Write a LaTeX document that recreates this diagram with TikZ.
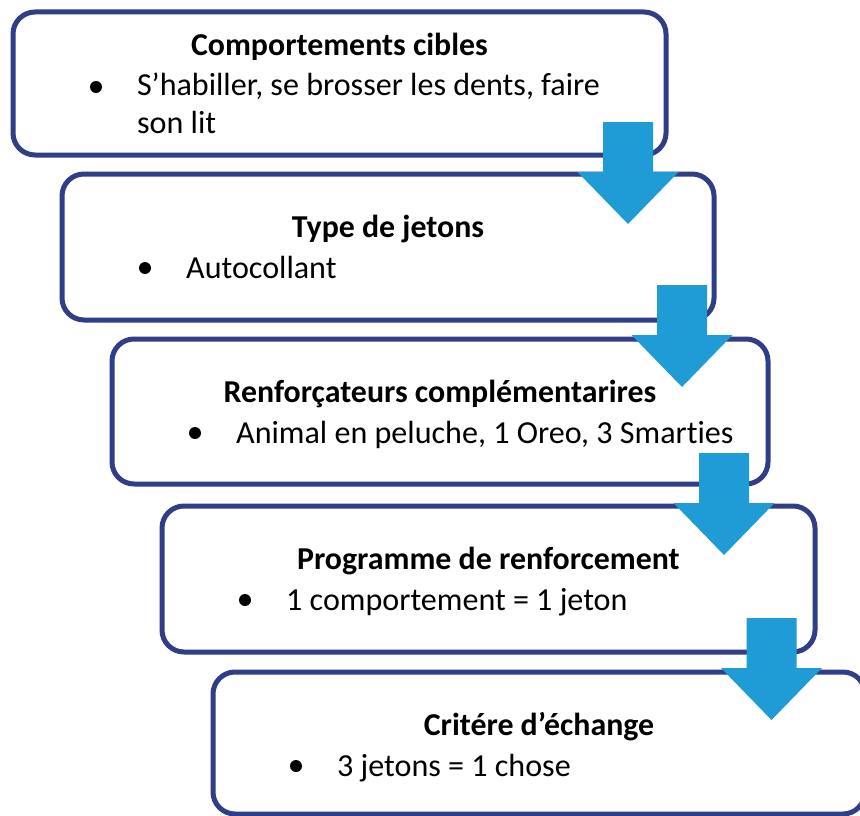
\documentclass[tikz,border=0pt]{standalone}
\usepackage{fontspec}
\setmainfont[Ligatures=NoCommon]{Carlito}
\usetikzlibrary{calc}
\definecolor{boxblue}{HTML}{2F3E86}
\definecolor{arrowblue}{HTML}{1F9BD6}
\tikzset{
  stepbox/.style={rectangle, draw=boxblue, line width=5bp, rounded corners=22bp, fill=white,
    inner sep=0pt, outer sep=0pt, anchor=north west},
  titletext/.style={font=\fontsize{32}{38}\selectfont\bfseries, anchor=base, inner sep=0pt},
  bodytext/.style={font=\fontsize{32.2}{38}\selectfont, anchor=base west, inner sep=0pt},
  bulletdot/.style={circle, fill=black, minimum size=12bp, inner sep=0pt},
}
\newcommand\blockarr[1]{\fill[arrowblue] (#1) ++(-25,0) -- ++(50,0) -- ++(0,50) -- ++(25.5,0)
  -- ++(-50.5,52) -- ++(-50.5,-52) -- ++(25.5,0) -- cycle;}
\begin{document}
\begin{tikzpicture}[x=1bp,y=-1bp]
\useasboundingbox (0,0) rectangle (860,816);
\clip (0,0) rectangle (860,816);
% boxes
\node[stepbox, minimum width=653bp, minimum height=143bp] (b1) at (13,12) {};
\node[stepbox, minimum width=652bp, minimum height=146bp] (b2) at (62,174) {};
\node[stepbox, minimum width=656bp, minimum height=145bp] (b3) at (112,339) {};
\node[stepbox, minimum width=653bp, minimum height=146bp] (b4) at (162,506) {};
\node[stepbox, minimum width=652bp, minimum height=142bp] (b5) at (213,672) {};
% box 1 text
\node[titletext] (t1) at ($(b1.north)+(0,44)$) {Comportements cibles};
\node[bulletdot] (d1) at ($(b1.north west)+(83,75)$) {};
\node[bodytext] (l1a) at ($(b1.north west)+(124,83)$) {S’habiller, se brosser les dents, faire};
\node[bodytext] (l1b) at ($(b1.north west)+(124,121)$) {son lit};
% box 2 text
\node[titletext] (t2) at ($(b2.north)+(0,63)$) {Type de jetons};
\node[bulletdot] (d2) at ($(b2.north west)+(83,94)$) {};
\node[bodytext] (l2) at ($(b2.north west)+(124,104)$) {Autocollant};
% box 3 text
\node[titletext] (t3) at ($(b3.north)+(0,63)$) {Renforçateurs complémentarires};
\node[bulletdot] (d3) at ($(b3.north west)+(83,94)$) {};
\node[bodytext] (l3) at ($(b3.north west)+(124,104)$) {Animal en peluche, 1 Oreo, 3 Smarties};
% box 4 text
\node[titletext] (t4) at ($(b4.north)+(0,63)$) {Programme de renforcement};
\node[bulletdot] (d4) at ($(b4.north west)+(83,94)$) {};
\node[bodytext] (l4) at ($(b4.north west)+(124,104)$) {1 comportement = 1 jeton};
% box 5 text
\node[titletext] (t5) at ($(b5.north)+(0,63)$) {Critére d’échange};
\node[bulletdot] (d5) at ($(b5.north west)+(83,94)$) {};
\node[bodytext] (l5) at ($(b5.north west)+(124,104)$) {3 jetons = 1 chose};
% arrows
\coordinate (a1) at ($(b1.south east)+(-38,-33)$);
\coordinate (a2) at ($(b2.south east)+(-32,-35)$);
\coordinate (a3) at ($(b3.south east)+(-44,-31)$);
\coordinate (a4) at ($(b4.south east)+(-43.5,-34)$);
\blockarr{a1}
\blockarr{a2}
\blockarr{a3}
\blockarr{a4}
\end{tikzpicture}
\end{document}
